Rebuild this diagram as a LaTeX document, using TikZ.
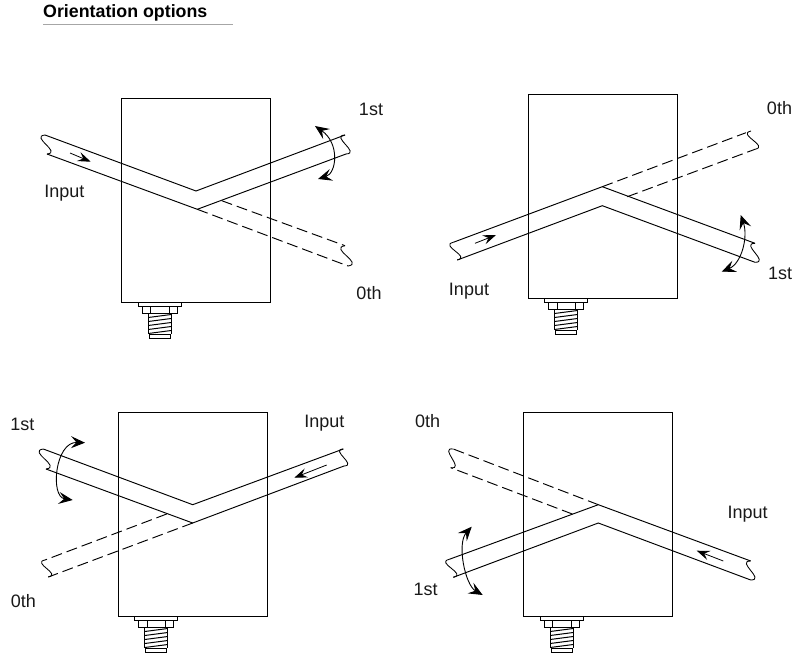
\documentclass[tikz,border=0pt]{standalone}
\usepackage{fontspec}
\setmainfont{Liberation Sans}
\usetikzlibrary{arrows.meta,calc}
\tikzset{
  line/.style={draw=black,line width=0.95pt,line join=miter},
  dashline/.style={line,dash pattern=on 11pt off 5pt},
  squigline/.style={draw=black,line width=0.85pt},
  flow/.style={draw=black,line width=0.8pt,-{Stealth[length=13pt,width=9.5pt,inset=5pt]}},
  turn/.style={draw=black,line width=0.9pt,{Stealth[length=14pt,width=12pt,inset=5.5pt]}-{Stealth[length=14pt,width=12pt,inset=5.5pt]}},
  lab/.style={font=\fontsize{18}{20}\selectfont,inner sep=0pt,text=black!90},
  titlelab/.style={font=\fontsize{17.8}{20}\selectfont\bfseries,inner sep=0pt,anchor=west,text=black},
  thin part/.style={draw=black,line width=0.7pt}
}
\newcommand{\squig}[3]{\draw[squigline] (#2) .. controls ($(#2)!.8!#1:(#3)$) and ($(#3)!.8!#1:(#2)$) .. (#3);}
\newcommand{\mount}[2]{%
  \begin{scope}[shift={(#1,#2)}]
    \draw[thin part,line width=0.85pt] (-21.5,0) rectangle (21.5,4);
    \draw[thin part] (-17.5,4) rectangle (17.5,11) (-9,4) -- (-9,11) (9.5,4) -- (9.5,11);
    \draw[thin part] (-11.5,11) -- (-11.5,32) (11.5,11) -- (11.5,32);
    \foreach \t in {14,18,22,26,30}{\draw[draw=black,line width=1pt] (-11.5,\t+1.5) -- (11.5,\t-1.5);}
    \draw[thin part] (-10.5,32) rectangle (10.5,36.5);
  \end{scope}}
\begin{document}
\begin{tikzpicture}[x=1pt,y=-1pt]
\useasboundingbox (0,0) rectangle (795,655);
% title
\node[titlelab] (title) at (43,12.5) {Orientation options};
\coordinate (ul1) at (43,24.5); \coordinate (ul2) at (233,24.5);
\draw[black!35,line width=0.8pt] (ul1) -- (ul2);

% panel 1
\node[line,minimum width=149.4pt,minimum height=203.3pt,inner sep=0pt,outer sep=0pt] (box1) at (196,200.4) {};
\mount{159.7}{302}
\coordinate (a1) at (45,135); \coordinate (b1) at (47,154);
\coordinate (c1) at (345,135); \coordinate (d1) at (346,154);
\coordinate (e1) at (345,245.7); \coordinate (f1) at (348,266);
\draw[line] (a1) -- (196,191) -- (c1);
\draw[line] (b1) -- (197.3,209.3) -- (d1);
\draw[dashline] (197.3,209.3) -- (f1);
\draw[dashline] (221.7,200.7) -- (e1);
\squig{-90}{a1}{b1} \squig{-90}{c1}{d1} \squig{-90}{e1}{f1}
\draw[flow] (70,153) -- (90.7,161.7);
\draw[turn] (315,126) .. controls (340,143.3) and (336.7,173.3) .. (318,179);
\node[lab] (i1) at (64.3,193.3) {Input};
\node[lab] (s1) at (371,109) {1st};
\node[lab] (z1) at (369,293) {0th};

% panel 2
\node[line,minimum width=149pt,minimum height=203.7pt,inner sep=0pt,outer sep=0pt] (box2) at (602.8,196.2) {};
\mount{566}{298}
\coordinate (a2) at (453.3,242.3); \coordinate (b2) at (457.3,260);
\coordinate (c2) at (755,243.3); \coordinate (d2) at (755,262.3);
\coordinate (e2) at (751,131); \coordinate (f2) at (755,149.3);
\draw[line] (a2) -- (602.3,186.7) -- (c2);
\draw[line] (b2) -- (602.3,205.7) -- (d2);
\draw[dashline] (602.3,186.7) -- (746,132.7);
\draw[dashline] (627.3,196.7) -- (f2);
\squig{-90}{a2}{b2} \squig{-90}{c2}{d2} \squig{-90}{e2}{f2}
\draw[flow] (475,243.3) -- (496,235);
\draw[turn] (740.7,215) .. controls (748.3,236.7) and (741.7,263.3) .. (721.7,271.7);
\node[lab] (i2) at (469,291) {Input};
\node[lab] (s2) at (780,273) {1st};
\node[lab] (z2) at (779.5,108) {0th};

% panel 3
\node[line,minimum width=148.7pt,minimum height=204pt,inner sep=0pt,outer sep=0pt] (box3) at (192.7,514) {};
\mount{156.3}{616}
\coordinate (a3) at (43.3,449); \coordinate (b3) at (46,469);
\coordinate (c3) at (343.3,449); \coordinate (d3) at (344,466);
\coordinate (e3) at (45,560); \coordinate (f3) at (48.3,577);
\draw[line] (a3) -- (192.7,504.7) -- (c3);
\draw[line] (b3) -- (192.7,523) -- (d3);
\draw[dashline] (192.7,523) -- (f3);
\draw[dashline] (166.7,514) -- (e3);
\squig{-90}{a3}{b3} \squig{-90}{c3}{d3} \squig{-90}{e3}{f3}
\draw[flow] (326.7,465) -- (294.3,477.7);
\draw[turn] (85,442.7) .. controls (55,441.7) and (50,496.7) .. (72.7,500);
\node[lab] (i3) at (324.3,422.7) {Input};
\node[lab] (s3) at (22.3,424) {1st};
\node[lab] (z3) at (23.3,600.7) {0th};

% panel 4
\node[line,minimum width=148.6pt,minimum height=204pt,inner sep=0pt,outer sep=0pt] (box4) at (598,514) {};
\mount{561.7}{616}
\coordinate (a4) at (449.3,559.3); \coordinate (b4) at (453.3,577.3);
\coordinate (c4) at (750.7,561); \coordinate (d4) at (750.7,580);
\coordinate (e4) at (453.3,449); \coordinate (f4) at (450.7,467.7);
\draw[line] (a4) -- (598.3,504.7) -- (c4);
\draw[line] (b4) -- (598.3,523) -- (d4);
\draw[dashline] (598.3,504.7) -- (e4);
\draw[dashline] (572.3,514) -- (f4);
\squig{-90}{a4}{b4} \squig{-90}{c4}{d4} \squig{-90}{e4}{f4}
\draw[flow] (723.3,561) -- (696.7,550.7);
\draw[turn] (471.7,526.7) .. controls (456.7,543.3) and (465,585) .. (482.7,595);
\node[lab] (i4) at (747.7,514.3) {Input};
\node[lab] (s4) at (425.7,589.3) {1st};
\node[lab] (z4) at (427.7,421) {0th};
\end{tikzpicture}
\end{document}
